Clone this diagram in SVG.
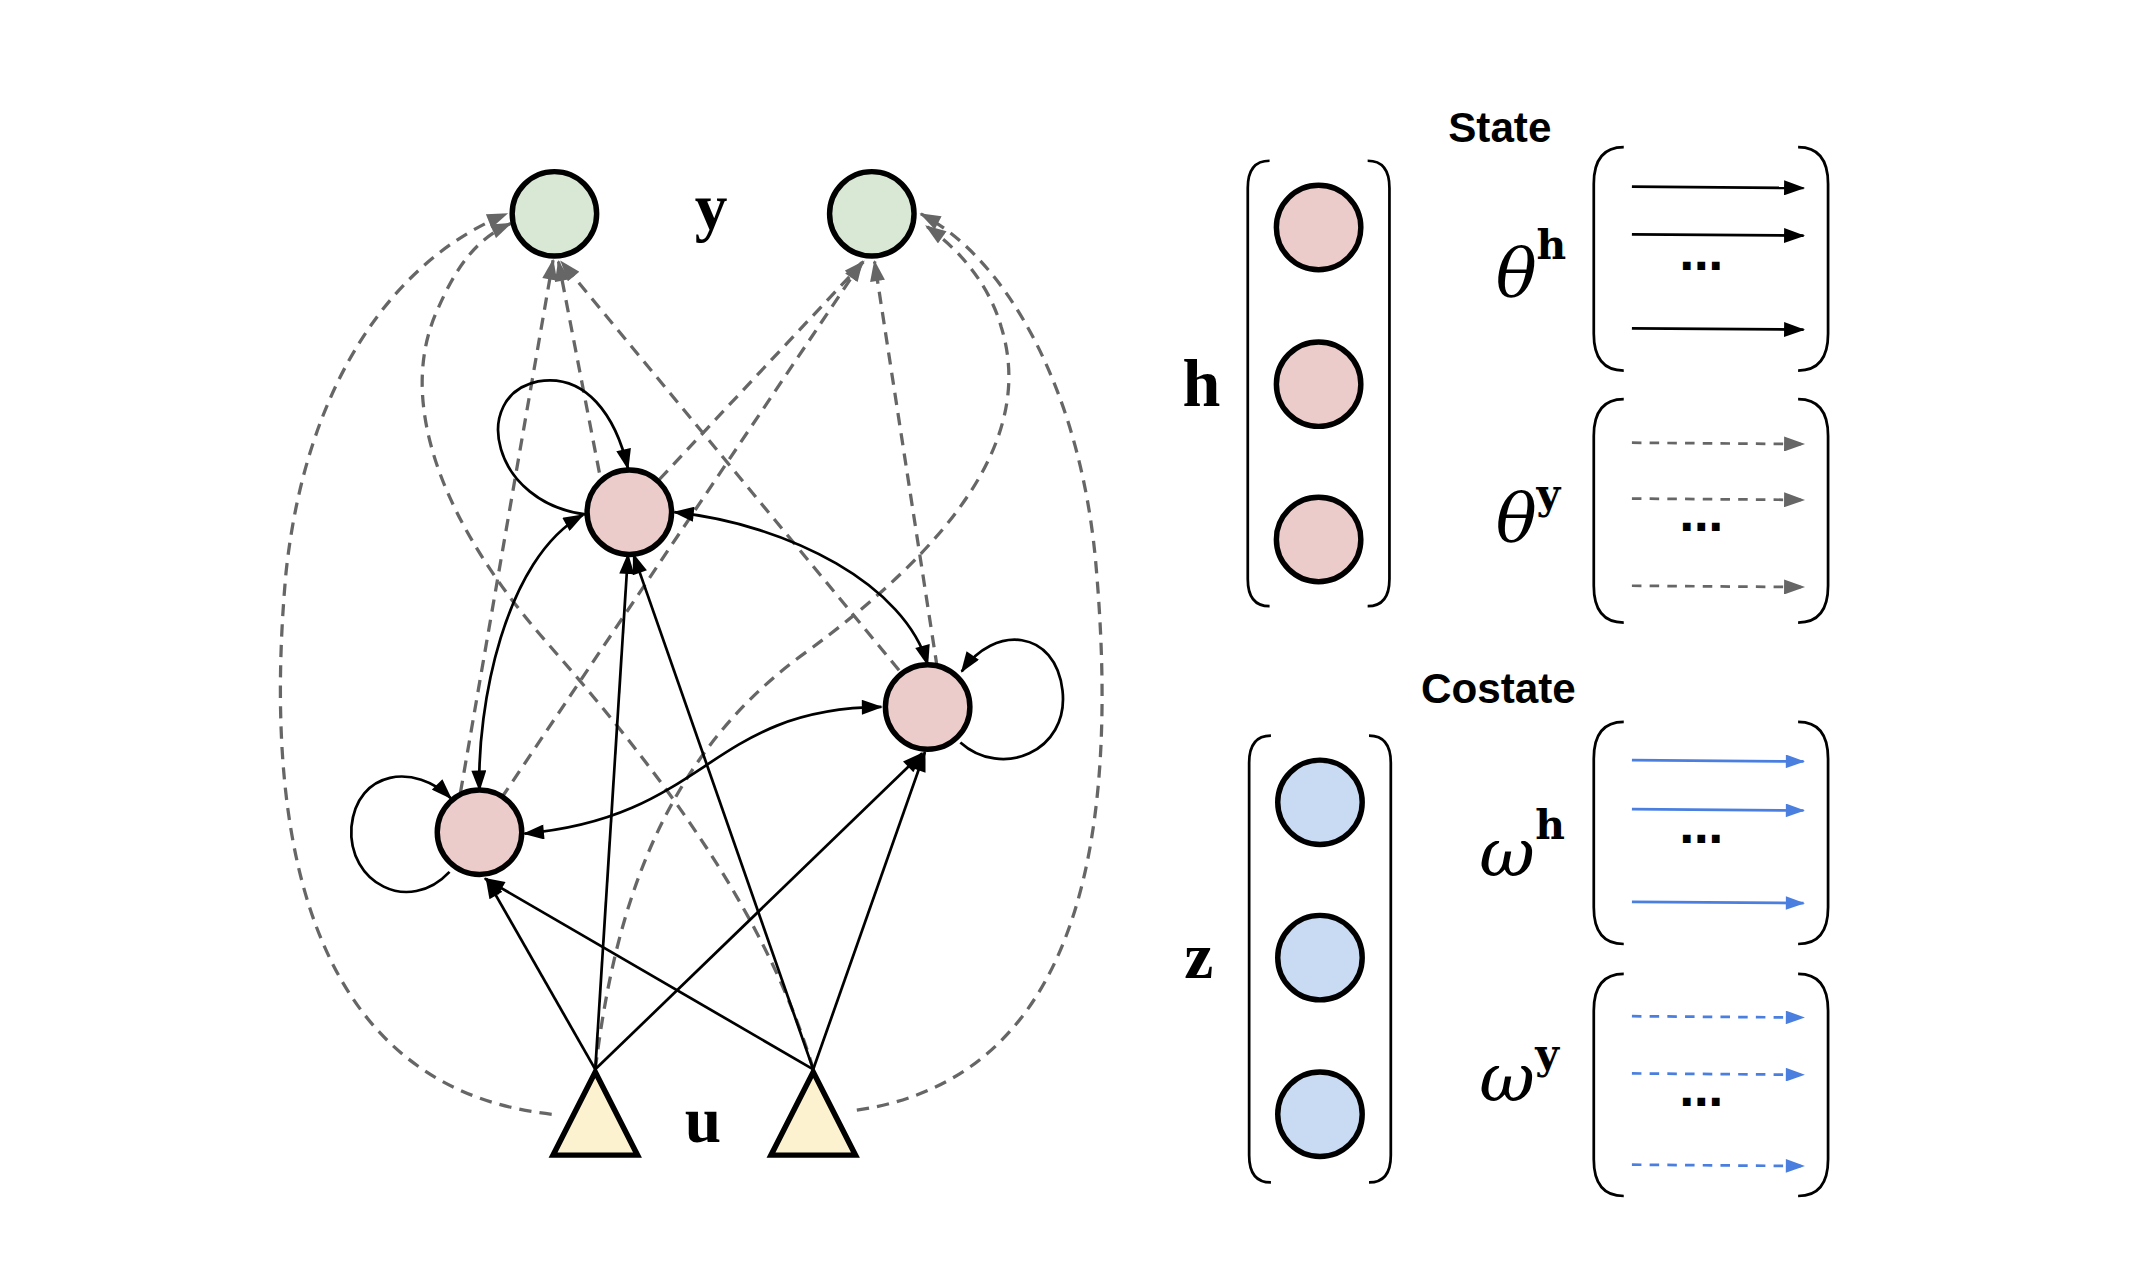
<svg xmlns="http://www.w3.org/2000/svg" width="2136" height="1268" viewBox="0 0 2136 1268">
<defs>
<marker id="ab" viewBox="0 0 14 10" refX="13" refY="5" markerWidth="16" markerHeight="11" markerUnits="userSpaceOnUse" orient="auto-start-reverse"><path d="M0,0 L14,5 L0,10 Z" fill="#000"/></marker>
<marker id="ag" viewBox="0 0 14 10" refX="13" refY="5" markerWidth="16" markerHeight="11" markerUnits="userSpaceOnUse" orient="auto"><path d="M0,0 L14,5 L0,10 Z" fill="#666"/></marker>
<marker id="abl" viewBox="0 0 14 10" refX="13" refY="5" markerWidth="15" markerHeight="10" markerUnits="userSpaceOnUse" orient="auto"><path d="M0,0 L14,5 L0,10 Z" fill="#4a7fe0"/></marker>
</defs>
<style>
.s{fill:none;stroke:#000;stroke-width:2;marker-end:url(#ab)}
.d{fill:none;stroke:#666;stroke-width:2.4;stroke-dasharray:9,6;marker-end:url(#ag)}
.ys{fill:#d9e8d5;stroke:#000;stroke-width:4}
.hs{fill:#ecccca;stroke:#000;stroke-width:4}
.zs{fill:#c9daf3;stroke:#000;stroke-width:4}
.tri{fill:#fdf2cf;stroke:#000;stroke-width:4;stroke-linejoin:miter}
.br{fill:none;stroke:#000;stroke-width:2}
.lab{font-family:"Liberation Serif",serif;font-weight:bold;fill:#000}
.sup{font-family:"DejaVu Serif","Liberation Serif",serif;font-weight:bold;fill:#000}
.gk{font-family:"DejaVu Serif","Liberation Serif",serif;font-style:italic;fill:#000}
.ttl{font-family:"Liberation Sans",Arial,sans-serif;font-weight:bold;font-size:31px;text-anchor:middle}
.dots{font-family:"DejaVu Sans",sans-serif;font-size:32px;font-weight:bold;text-anchor:middle}
.ah{stroke:#000;stroke-width:2;marker-end:url(#ab)}
.ad{stroke:#666;stroke-width:2;stroke-dasharray:7,6;marker-end:url(#ag)}
.bh{stroke:#4a7fe0;stroke-width:2;marker-end:url(#abl)}
.bd{stroke:#4a7fe0;stroke-width:2;stroke-dasharray:7,6;marker-end:url(#abl)}
</style>
<g transform="scale(1.3622)">
<g id="connectors">
<path class="d" d="M405,818 C240,800 190,640 210,420 C225,280 290,190 372,157"/>
<path class="d" d="M629,815 C800,790 820,600 805,420 C795,290 740,190 676,157"/>
<path class="d" d="M597,785 C560,660 470,550 400,470 C330,390 290,300 320,230 C335,195 350,175 375,164"/>
<path class="d" d="M437,785 C450,680 480,560 590,480 C700,400 760,320 735,240 C725,205 700,180 680,166"/>
<path class="d" d="M338,582 L406,191"/>
<path class="d" d="M368,586 L633,192"/>
<path class="d" d="M440,347 L410,192"/>
<path class="d" d="M484,352 L634,192"/>
<path class="d" d="M660,492 L412,192"/>
<path class="d" d="M688,490 L642,192"/>
<path class="s" style="marker-start:url(#ab)" d="M428,378 C370,410 350,520 352,580"/>
<path class="s" style="marker-start:url(#ab)" d="M495,376 C580,385 665,430 681,488"/>
<path class="s" style="marker-start:url(#ab)" d="M385,612 C520,600 520,520 647,519"/>
<path class="s" d="M437,785 L357,645"/>
<path class="s" d="M437,785 L461,407"/>
<path class="s" d="M437,785 L677,553"/>
<path class="s" d="M597,785 L465,407"/>
<path class="s" d="M597,785 L356,645"/>
<path class="s" d="M597,785 L679,552"/>
<path class="s" d="M432,378 C360,370 345,290 395,280 C430,274 452,305 461,344"/>
<path class="s" d="M330,640 C300,672 255,648 258,607 C262,565 305,560 331,586"/>
<path class="s" d="M705,545 C735,572 785,552 780,507 C775,462 730,458 706,493"/>
</g>
<g id="y1"><circle class="ys" cx="407" cy="157" r="31"/></g>
<g id="y2"><circle class="ys" cx="640" cy="157" r="31"/></g>
<text class="lab" x="522" y="168" font-size="48" text-anchor="middle">y</text>
<g id="hA"><circle class="hs" cx="462" cy="376" r="31"/></g>
<g id="hB"><circle class="hs" cx="681" cy="519" r="31"/></g>
<g id="hC"><circle class="hs" cx="352" cy="611" r="31"/></g>
<g id="u1"><polygon class="tri" points="437,787 406,848 468,848"/></g>
<g id="u2"><polygon class="tri" points="597,787 566,848 628,848"/></g>
<text class="lab" x="516" y="838" font-size="48" text-anchor="middle">u</text>

<text class="ttl" x="1101" y="104">State</text>
<text class="ttl" x="1100" y="516">Costate</text>
<g id="hvec">
<path class="br" d="M932,118 Q916,118 916,138 L916,425 Q916,445 932,445"/>
<path class="br" d="M1004,118 Q1020,118 1020,138 L1020,425 Q1020,445 1004,445"/>
<circle class="hs" cx="968" cy="167" r="31"/>
<circle class="hs" cx="968" cy="282" r="31"/>
<circle class="hs" cx="968" cy="396" r="31"/>
<text class="lab" x="882" y="298" font-size="50" text-anchor="middle">h</text>
</g>
<g id="zvec">
<path class="br" d="M933,540 Q917,540 917,560 L917,848 Q917,868 933,868"/>
<path class="br" d="M1005,540 Q1021,540 1021,560 L1021,848 Q1021,868 1005,868"/>
<circle class="zs" cx="969" cy="589" r="31"/>
<circle class="zs" cx="969" cy="703" r="31"/>
<circle class="zs" cx="969" cy="818" r="31"/>
<text class="lab" x="880" y="718" font-size="48" text-anchor="middle">z</text>
</g>
<g id="thetah">
<path class="br" d="M1192,108 Q1170,108 1170,135 L1170,245 Q1170,272 1192,272"/>
<path class="br" d="M1320,108 Q1342,108 1342,135 L1342,245 Q1342,272 1320,272"/>
<line class="ah" x1="1198" y1="137" x2="1324" y2="138"/>
<line class="ah" x1="1198" y1="172" x2="1324" y2="173"/>
<line class="ah" x1="1198" y1="241" x2="1324" y2="242"/>
<text class="dots" x="1249" y="206">⋯</text>
<text class="gk" x="1098" y="217" font-size="50">θ</text>
<text class="sup" x="1128" y="190" font-size="30">h</text>
</g>
<g id="thetay">
<path class="br" d="M1192,293 Q1170,293 1170,320 L1170,430 Q1170,457 1192,457"/>
<path class="br" d="M1320,293 Q1342,293 1342,320 L1342,430 Q1342,457 1320,457"/>
<line class="ad" x1="1198" y1="325" x2="1324" y2="326"/>
<line class="ad" x1="1198" y1="366" x2="1324" y2="367"/>
<line class="ad" x1="1198" y1="430" x2="1324" y2="431"/>
<text class="dots" x="1249" y="398">⋯</text>
<text class="gk" x="1098" y="397" font-size="50">θ</text>
<text class="sup" x="1128" y="373" font-size="30">y</text>
</g>
<g id="omegah">
<path class="br" d="M1192,530 Q1170,530 1170,557 L1170,666 Q1170,693 1192,693"/>
<path class="br" d="M1320,530 Q1342,530 1342,557 L1342,666 Q1342,693 1320,693"/>
<line class="bh" x1="1198" y1="558" x2="1324" y2="559"/>
<line class="bh" x1="1198" y1="594" x2="1324" y2="595"/>
<line class="bh" x1="1198" y1="662" x2="1324" y2="663"/>
<text class="dots" x="1249" y="627">⋯</text>
<text class="gk" x="1086" y="643" font-size="50">ω</text>
<text class="sup" x="1127" y="616" font-size="30">h</text>
</g>
<g id="omegay">
<path class="br" d="M1192,715 Q1170,715 1170,742 L1170,851 Q1170,878 1192,878"/>
<path class="br" d="M1320,715 Q1342,715 1342,742 L1342,851 Q1342,878 1320,878"/>
<line class="bd" x1="1198" y1="746" x2="1324" y2="747"/>
<line class="bd" x1="1198" y1="788" x2="1324" y2="789"/>
<line class="bd" x1="1198" y1="855" x2="1324" y2="856"/>
<text class="dots" x="1249" y="820">⋯</text>
<text class="gk" x="1086" y="808" font-size="50">ω</text>
<text class="sup" x="1127" y="784" font-size="30">y</text>
</g>
</g>
</svg>
